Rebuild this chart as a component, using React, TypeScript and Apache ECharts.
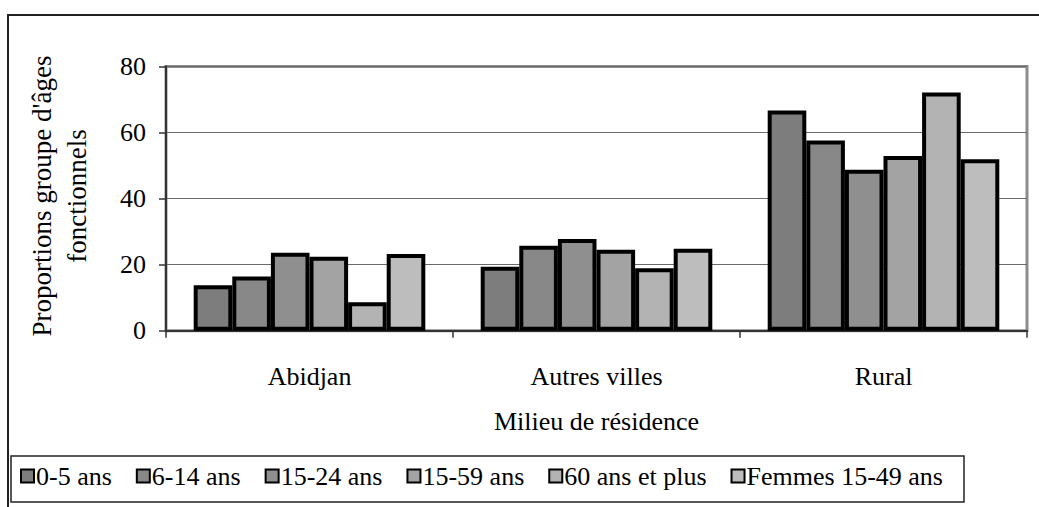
import React, { useEffect, useRef } from "react";
import * as echarts from "echarts";

const categories = ["Abidjan", "Autres villes", "Rural"];
const seriesNames = ["0-5 ans", "6-14 ans", "15-24 ans", "15-59 ans", "60 ans et plus", "Femmes 15-49 ans"];
const v0_5 = [13.8, 19.4, 66.7];
const v6_14 = [16.4, 25.7, 57.6];
const v15_24 = [23.6, 27.8, 48.7];
const v15_59 = [22.4, 24.5, 52.9];
const v60 = [8.6, 18.9, 72.1];
const vFemmes = [23.2, 24.8, 51.9];
const seriesValues = [v0_5, v6_14, v15_24, v15_59, v60, vFemmes];
const colors = ["#7d7d7d", "#888888", "#8f8f8f", "#a3a3a3", "#b3b3b3", "#bdbdbd"];
const yTicks = [0, 20, 40, 60, 80];

const FONT = "Liberation Serif";
const FS = 26;

export default function App() {
  const ref = useRef<HTMLDivElement>(null);
  useEffect(() => {
    if (!ref.current) return;
    const chart = echarts.init(ref.current, null, { renderer: "svg" });
    chart.setOption({
      animation: false,
      backgroundColor: "#ffffff",
      textStyle: { fontFamily: FONT, color: "#000" },
      grid: {
        left: 166,
        right: 12,
        top: 66.5,
        bottom: 176.3,
        show: true,
        borderColor: "#8c8c8c",
        borderWidth: 3,
        backgroundColor: "transparent",
      },
      xAxis: {
        type: "category",
        data: categories,
        name: "Milieu de résidence",
        nameLocation: "middle",
        nameGap: 78,
        nameTextStyle: { fontFamily: FONT, fontSize: FS, color: "#000" },
        axisLine: { lineStyle: { color: "#333", width: 2 } },
        axisTick: { show: true, length: 7, lineStyle: { color: "#333", width: 1.5 } },
        axisLabel: { fontFamily: FONT, fontSize: FS, color: "#000", margin: 33 },
      },
      yAxis: {
        type: "value",
        min: yTicks[0],
        max: yTicks[yTicks.length - 1],
        interval: 20,
        axisLine: { show: true, lineStyle: { color: "#333", width: 2 } },
        axisTick: { show: true, length: 7, lineStyle: { color: "#333", width: 1.5 } },
        axisLabel: { fontFamily: FONT, fontSize: FS, color: "#000", margin: 20 },
        splitLine: { show: true, lineStyle: { color: "#6a6a6a", width: 1 } },
      },
      legend: {
        left: 20,
        top: 463,
        itemWidth: 13,
        itemHeight: 13,
        itemGap: 24,
        icon: "rect",
        padding: 0,
        itemStyle: { borderColor: "#000", borderWidth: 2 },
        textStyle: { fontFamily: FONT, fontSize: FS, color: "#000", padding: [0, 0, 0, -3] },
        data: seriesNames,
      },
      graphic: [
        {
          type: "rect",
          shape: { x: 8, y: 15, width: 1100, height: 600 },
          style: { fill: "none", stroke: "#222", lineWidth: 2 },
          silent: true,
        },
        {
          type: "rect",
          shape: { x: 11, y: 456, width: 953, height: 46 },
          style: { fill: "none", stroke: "#222", lineWidth: 1.5 },
          silent: true,
          z: -1,
        },
        {
          type: "text",
          x: 59,
          y: 196,
          rotation: Math.PI / 2,
          style: {
            text: "Proportions groupe d'âges\nfonctionnels",
            fontFamily: FONT,
            fontSize: 27,
            lineHeight: 35,
            fill: "#000",
            align: "center",
            verticalAlign: "middle",
          },
        },
      ],
      series: seriesNames.map((name, i) => ({
        name,
        type: "bar",
        data: seriesValues[i],
        barGap: "0%",
        barCategoryGap: "19.3%",
        itemStyle: { color: colors[i], borderColor: "#000", borderWidth: 4 },
      })),
    });
    return () => chart.dispose();
  }, []);
  return (
    <div
      ref={ref}
      style={{ position: "absolute", left: 0, top: 0, width: 1039, height: 507 }}
    />
  );
}
